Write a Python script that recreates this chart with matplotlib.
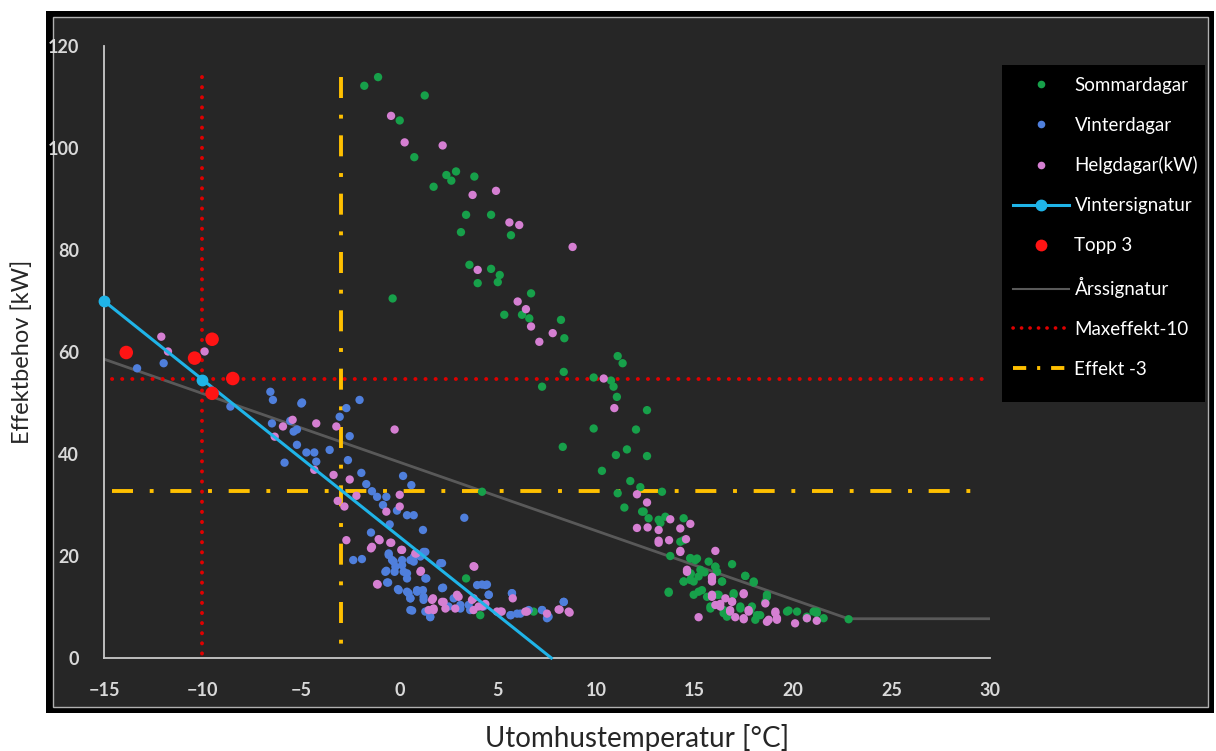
import matplotlib
matplotlib.use("Agg")
import matplotlib.pyplot as plt
from matplotlib.patches import Rectangle
from matplotlib.lines import Line2D

# ---------------- data ----------------
sommar_x = [-1.78, -1.08, 1.29, 0.02, 0.76, 1.74, 2.39, 2.64, 2.88, 3.81, 3.39, 4.66, 3.13, 5.67,
            3.56, 4.66, 5.1, 5.0, 3.98, -0.34, 6.69, 5.33, 6.23, 6.6, 8.21, 8.38, 11.09, 11.34,
            8.35, 9.87, 10.75, 10.88, 7.25, 11.05, 12.58, 9.87, 12.02, 8.3, 11.56, 11.0, 12.58,
            10.29, 11.73, 12.24, 13.34, 11.09, 4.2, 11.43, 12.33, 12.66, 13.17, 13.51, 14.44,
            14.44, 13.76, 14.78, 12.41, 13.26, 14.27, 15.03, 15.71, 16.9, 14.8, 15.2, 15.5,
            16.05, 17.57, 18.0, 14.44, 14.78, 16.39, 13.68, 14.95, 15.37, 16.14, 16.98, 18.67,
            18.59, 15.8, 16.47, 17.32, 17.83, 18.17, 19.69, 20.2, 20.7, 21.2, 21.55, 19.77,
            21.2, 22.82, 3.39, 4.11,
            6.82, 14.78, 15.12, 16.05, 14.78, 15.29, 16.14, 14.44, 14.95, 16.39, 17.57, 18.0,
            13.68, 15.2, 15.63, 16.22, 16.98, 18.67, 15.8, 16.47, 17.32, 17.91, 18.33, 21.04,
            20.7, 16.64, 18.08]
sommar_y = [112.2, 113.9, 110.3, 105.4, 98.2, 92.4, 94.7, 93.6, 95.4, 94.4, 86.9, 86.9, 83.5, 82.9,
            77.1, 76.3, 75.1, 73.7, 73.5, 70.5, 71.5, 67.3, 67.3, 66.6, 66.3, 62.7, 59.2, 57.8,
            56.1, 55.0, 54.4, 53.2, 53.2, 51.2, 48.6, 45.0, 44.8, 41.4, 40.9, 39.8, 39.6,
            36.7, 34.7, 33.5, 32.6, 32.3, 32.6, 29.5, 28.7, 27.4, 27.1, 27.7, 27.4,
            23.1, 20.0, 19.6, 28.7, 26.5, 22.8, 19.2, 18.9, 18.4, 16.5, 16.0, 16.8,
            17.9, 16.1, 15.0, 15.0, 15.3, 15.0, 13.0, 12.4, 13.3, 12.4, 12.7, 12.0,
            11.0, 10.1, 8.8, 10.1, 9.4, 8.4, 9.1, 9.1, 8.1, 8.8, 7.8, 9.3,
            9.1, 7.6, 15.6, 8.4,
            9.1, 19.5, 19.5, 17.9, 16.6, 17.3, 16.9, 15.0, 15.0, 15.0, 16.1, 14.8,
            12.8, 13.0, 12.0, 12.4, 12.4, 12.4, 9.7, 9.4, 9.7, 10.1, 8.4, 9.1,
            7.8, 8.1, 7.5]

vinter_x = [-13.32, -11.97, -8.58, -6.55, -6.42, -4.98, -2.02, -2.69, -3.03, -6.47, -5.54, -5.37,
            -5.2, -2.52, -5.83, -5.2, -4.72, -4.32, -4.22, -3.54, -2.61, -1.93, -4.94, 0.19, 0.61,
            -1.68, -1.39, -1.13, -0.66, -0.83, -0.12, 0.39, 0.73, 3.3, -0.49, 1.2, -1.44, -2.34,
            -1.9, -0.54, -0.37, 0.14, 0.56, 1.32, 1.07, -0.66, -0.24, 0.39, 0.73, 2.17, 1.37,
            -0.57, -0.07, 2.22, 4.2, 4.45, 0.39, 0.9, 1.2, 0.56, 1.23, 4.54, 0.65, 1.57, 2.5,
            3.1, 3.52, 4.28, 5.72, 5.67, 6.15, 6.57, 7.25, 7.58, 8.35,
            -0.54, -0.29, 0.14, -0.71, -0.2, 0.22, 0.39, 0.73, 1.23, 2.08, 1.32, -0.62, -0.03,
            0.47, 0.9, 0.56, 1.23, 2.17, 2.76, 3.95, 4.37, 4.54, 3.1, 3.6, 0.56, 1.32, 1.57,
            5.64, 5.98, 5.72, 7.25, 8.35, 7.5]
vinter_y = [56.8, 57.8, 49.3, 52.2, 50.6, 49.9, 50.6, 49.0, 47.3, 46.0, 46.5, 44.4,
            44.8, 43.5, 38.3, 41.8, 40.3, 40.3, 38.5, 40.8, 38.8, 36.3, 50.1, 35.7, 33.9,
            34.1, 32.7, 31.6, 31.6, 30.0, 28.9, 28.0, 28.0, 27.5, 26.2, 25.1, 24.6, 19.2,
            19.4, 20.5, 19.2, 19.2, 19.2, 20.8, 19.9, 17.1, 16.9, 16.6, 18.9, 18.6, 15.6,
            14.8, 13.5, 13.8, 14.4, 14.4, 13.0, 13.3, 13.3, 11.7, 12.0, 12.4, 9.3, 8.1, 10.1,
            9.7, 10.4, 10.1, 12.7, 8.4, 8.7, 9.4, 9.4, 8.1, 11.0,
            20.2, 18.9, 18.2, 16.9, 17.9, 16.9, 15.6, 19.8, 20.8, 18.6, 15.6, 14.8, 13.3,
            12.7, 13.0, 11.7, 11.4, 13.7, 11.7, 14.3, 14.3, 12.4, 10.4, 9.4, 9.4, 9.1, 8.0,
            8.4, 8.7, 12.7, 9.4, 11.0, 7.8]

helg_x = [-12.09, -11.75, -9.89, -5.42, -5.91, -4.22, -3.2, -6.33, -4.32, -3.34, -0.24, -2.52,
          -2.18, -3.13, -2.79, 0.02, 0.02, -0.66, -2.69, -1.0, -0.41, -1.44, 0.1, 0.86, 1.1, 3.81,
          -1.1, 1.71, 2.93, 1.74, 2.25, 2.84, 3.77, 4.03, 4.28, 5.13, 5.76, 6.48, 7.5, 8.14, 8.65,
          1.49, -0.42, 0.27, 2.2, 4.91, 3.72, 5.59, 6.09, 8.8, 3.98, 6.01, 6.43, 6.69, 7.79, 7.11,
          10.38, 10.92, 12.07, 12.58, 12.07, 12.61, 13.17, 13.76, 14.27, 14.78, 13.17, 13.7,
          14.56, 14.27, 16.05, 14.61, 15.88, 15.88, 17.49, 18.59, 16.9, 16.05, 16.3, 16.8,
          17.74, 15.2, 17.06, 17.49, 18.67, 19.1, 19.18, 20.1, 20.7, 21.2, 18.76, 17.49,
          -1.05, -0.46, -1.39, 0.14, 0.81, 1.07, 3.77, -1.13, 1.66, 2.17, 1.74, 2.34, 3.01,
          3.69, 3.77, 4.2, 4.37, 4.96, 5.2, 6.4, 8.09, 8.6,
          13.17, 14.27, 14.61, 15.88, 15.88, 15.88, 17.49, 16.56, 16.9, 16.3, 16.8, 17.74,
          19.1, 19.18]
helg_y = [63.0, 60.1, 60.1, 46.7, 45.4, 46.0, 45.4, 43.4, 36.9, 35.9, 44.8, 35.0,
          31.8, 30.8, 29.7, 32.0, 29.7, 28.7, 23.1, 23.1, 22.6, 21.5, 21.2, 20.5, 17.1, 17.9,
          14.4, 11.7, 12.4, 9.7, 11.0, 9.7, 11.7, 10.1, 10.4, 9.1, 11.7, 9.1, 8.7, 9.5, 8.9,
          9.4, 106.3, 101.1, 100.5, 91.6, 90.8, 85.4, 84.9, 80.6, 76.1, 69.9, 68.4, 65.0, 63.7, 62.0,
          54.8, 49.0, 32.1, 30.5, 25.5, 25.6, 25.1, 27.2, 25.4, 26.3, 23.0, 23.1,
          23.3, 21.0, 21.0, 17.3, 15.6, 12.0, 12.5, 10.7, 11.1, 10.4, 10.1, 9.4,
          9.4, 8.0, 8.0, 7.8, 7.1, 8.8, 7.5, 6.8, 7.8, 7.3, 7.5, 7.6,
          23.3, 22.6, 21.8, 21.2, 20.5, 16.9, 18.0, 14.5, 11.4, 11.0, 9.4, 9.7, 12.0,
          11.4, 9.4, 10.1, 10.6, 9.1, 9.1, 9.1, 9.5, 9.1,
          22.6, 20.8, 16.9, 15.9, 15.0, 12.4, 12.7, 11.7, 11.0, 10.6, 9.1, 9.1,
          9.1, 7.8]

vintersig_x = [-15, -10, 7.72]
vintersig_y = [70.0, 54.6, 0.0]

topp_x = [-13.87, -10.4, -9.51, -8.46, -9.51]
topp_y = [59.9, 58.8, 62.5, 54.8, 51.9]

ars_x = [-15, 22.8, 30]
ars_y = [58.6, 7.7, 7.7]

max_h_x = [-14.6, 29.8]
max_h_y = [54.8, 54.8]
max_v_x = [-10, -10]
max_v_y = [114, 0]

eff_h_x = [-14.6, 29.8]
eff_h_y = [32.8, 32.8]
eff_v_x = [-2.95, -2.95]
eff_v_y = [114, 0]

x_ticks = [-15, -10, -5, 0, 5, 10, 15, 20, 25, 30]
y_ticks = [0, 20, 40, 60, 80, 100, 120]

labels = ["Sommardagar", "Vinterdagar", "Helgdagar(kW)", "Vintersignatur", "Topp 3",
          "Årssignatur", "Maxeffekt-10", "Effekt -3"]

# ---------------- colours / styles ----------------
C_GREEN = "#17a04a"
C_BLUE = "#4f7fdc"
C_PINK = "#d57fd2"
C_CYAN = "#1fb4e8"
C_RED = "#ff1414"
C_GRAY = "#595959"
C_DRED = "#e00000"
C_YEL = "#ffc000"
BG = "#262626"

W, H = 1216, 751
plt.rcParams['font.family'] = ['Lato', 'DejaVu Sans']
fig = plt.figure(figsize=(W / 100, H / 100), dpi=100, facecolor="white")

def fx(px):
    return px / W

def fy(py):
    return 1 - py / H

# outer black frame and inner dark panel
fig.patches.append(Rectangle((fx(46), fy(713)), fx(1214) - fx(46), fy(11) - fy(713),
                             transform=fig.transFigure, facecolor="black", edgecolor="none", zorder=-3))
fig.patches.append(Rectangle((fx(53), fy(707)), fx(1208) - fx(53), fy(17) - fy(707),
                             transform=fig.transFigure, facecolor=BG, edgecolor="#b0b0b0",
                             linewidth=1.0, zorder=-2))
# legend box
fig.patches.append(Rectangle((fx(1002), fy(402)), fx(1205) - fx(1002), fy(65) - fy(402),
                             transform=fig.transFigure, facecolor="black", edgecolor="none", zorder=-1))

ax = fig.add_axes([fx(104), fy(658), fx(990) - fx(104), fy(46) - fy(658)])
ax.set_zorder(2)
ax.set_facecolor("none")
ax.set_xlim(-15, 30)
ax.set_ylim(0, 120)
ax.set_xticks(x_ticks)
ax.set_yticks(y_ticks)
ax.tick_params(length=0, colors="#d9d9d9", labelsize=13)
ax.tick_params(axis="x", pad=17)
ax.tick_params(axis="y", pad=18)
for lab in ax.get_xticklabels() + ax.get_yticklabels():
    lab.set_fontweight("bold")
for s in ["top", "right"]:
    ax.spines[s].set_visible(False)
for s in ["left", "bottom"]:
    ax.spines[s].set_color("#c8c8c8")
    ax.spines[s].set_linewidth(1.3)

# lines
dots = (0, (0.05, 2.55))
ax.plot(ars_x, ars_y, color=C_GRAY, lw=2.0, zorder=2)
ax.plot(max_h_x, max_h_y, color=C_DRED, lw=2.8, linestyle=dots,
        dash_capstyle="round", zorder=2)
ax.plot(max_v_x, max_v_y, color=C_DRED, lw=2.8, linestyle=dots,
        dash_capstyle="round", zorder=2)
dd = (0, (5.4, 4.3, 1.0, 4.3))
ax.plot(eff_h_x, eff_h_y, color=C_YEL, lw=2.8, linestyle=dd, zorder=2)
ax.plot(eff_v_x, eff_v_y, color=C_YEL, lw=2.8, linestyle=dd, zorder=2)

# scatter series
ms = 36
ax.scatter(sommar_x, sommar_y, s=ms, color=C_GREEN, edgecolors="none", zorder=3)
ax.scatter(vinter_x, vinter_y, s=ms, color=C_BLUE, edgecolors="none", zorder=3)
ax.scatter(helg_x, helg_y, s=ms, color=C_PINK, edgecolors="none", zorder=3)
ax.plot(vintersig_x, vintersig_y, color=C_CYAN, lw=2.2, marker="o", markersize=7.5,
        markevery=[0, 1], zorder=4, clip_on=False)
ax.scatter(topp_x, topp_y, s=95, color=C_RED, edgecolors="none", zorder=5)

# axis labels (outside dark frame)
fig.text(fx(637), fy(738), "Utomhustemperatur [°C]", ha="center", va="center",
         fontsize=20, color="#262626")
fig.text(fx(22), fy(352), "Effektbehov [kW]", ha="center", va="center", rotation=90,
         fontsize=17, color="#262626")

# legend
handles = [
    Line2D([], [], ls="none", marker="o", markersize=5.5, color=C_GREEN, markeredgewidth=0),
    Line2D([], [], ls="none", marker="o", markersize=5.5, color=C_BLUE, markeredgewidth=0),
    Line2D([], [], ls="none", marker="o", markersize=5.5, color=C_PINK, markeredgewidth=0),
    Line2D([], [], color=C_CYAN, lw=2.2, marker="o", markersize=7.5),
    Line2D([], [], ls="none", marker="o", markersize=8.5, color=C_RED, markeredgewidth=0),
    Line2D([], [], color=C_GRAY, lw=1.5),
    Line2D([], [], color=C_DRED, lw=2.6, ls=(0, (0.05, 2.3)), dash_capstyle="round"),
    Line2D([], [], color=C_YEL, lw=2.8, ls=(0, (3.4, 2.8, 0.8, 2.8))),
]
leg = fig.legend(handles, labels, loc="upper left", bbox_to_anchor=(fx(1007), fy(71)),
                 frameon=False, fontsize=13.5, labelcolor="white", handlelength=3.0,
                 handletextpad=0.3, labelspacing=1.22, borderaxespad=0, borderpad=0.3)
leg.set_zorder(6)

fig.savefig("out.png", dpi=100, facecolor="white")
